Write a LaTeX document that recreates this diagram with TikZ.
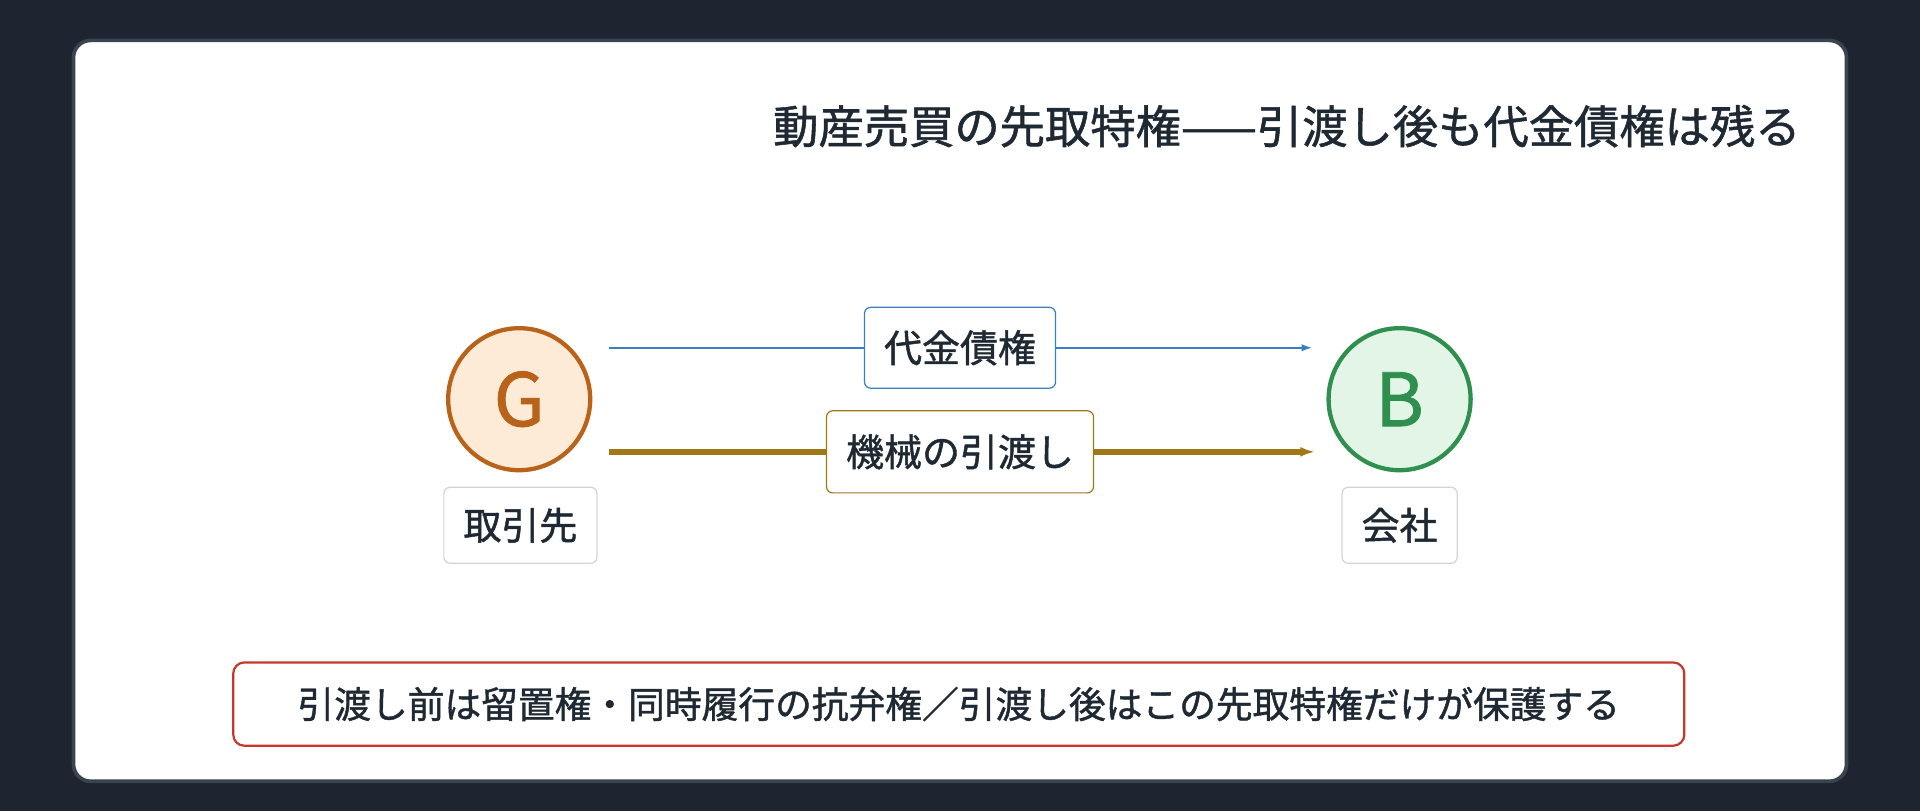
\documentclass[tikz,border=0pt]{standalone}
\usepackage{fontspec}
\setmainfont{Noto Sans CJK JP}
\newfontfamily\medfont[FakeBold=1.2]{Noto Sans CJK JP}
\usetikzlibrary{positioning,arrows.meta}
\definecolor{bgdark}{HTML}{1E2530}
\definecolor{cardedge}{HTML}{3A4350}
\definecolor{gedge}{HTML}{B8621A}
\definecolor{gfill}{HTML}{FDEBD8}
\definecolor{bedge}{HTML}{2F8F4E}
\definecolor{bfill}{HTML}{E3F5E6}
\definecolor{blueline}{HTML}{3A7FC1}
\definecolor{goldline}{HTML}{A07818}
\definecolor{redline}{HTML}{C8382A}
\definecolor{textdark}{HTML}{1F2933}
\definecolor{boxedge}{HTML}{D0D5DC}

\begin{document}
\begin{tikzpicture}[x=1pt,y=-1pt,
                party/.style={circle,line width=3.5pt,minimum size=116pt,inner sep=0pt,font=\fontsize{60}{60}\selectfont\medfont},
                tag/.style={rectangle,rounded corners=5pt,draw=boxedge,line width=1pt,fill=white,text=textdark,font=\fontsize{31}{31}\selectfont\medfont,minimum height=62pt,inner xsep=16pt},
                flow/.style={-{Latex[length=12pt,width=8pt]}}
            ]
                \fill[bgdark] (0,0) rectangle (1568,662);
                \draw[cardedge,line width=3pt,fill=white,rounded corners=14pt] (60,33) rectangle (1508,638);
                \node[anchor=east,text=textdark,font=\fontsize{37}{37}\selectfont\medfont] (title) at (1474,103) {動産売買の先取特権——引渡し後も代金債権は残る};

                % parties
                \node[party,draw=gedge,fill=gfill,text=gedge] (G) at (424,326) {G};
                \node[party,draw=bedge,fill=bfill,text=bedge] (B) at (1143,326) {B};
                \node[tag] (Gname) at (425,429) {取引先};
                \node[tag] (Bname) at (1143,429) {会社};

                \coordinate (bluestart) at (497,284);
                \coordinate (blueend) at (1072,284);
                \coordinate (goldstart) at (497,369);
                \coordinate (goldend) at (1074,369);
                \draw[flow,blueline,line width=2pt,-{Latex[length=9pt,width=6pt]}] (bluestart) -- (blueend);
                \draw[flow,goldline,line width=5pt] (goldstart) -- (goldend);
                \node[tag,draw=blueline,minimum height=66pt] (claim) at (784,284) {代金債権};
                \node[tag,draw=goldline,minimum height=67pt] (delivery) at (784,369) {機械の引渡し};

                \node[tag,draw=redline,line width=1.8pt,rounded corners=9pt,minimum height=68pt,minimum width=1185pt,font=\fontsize{30}{30}\selectfont\medfont] (note) at (783,575) {引渡し前は留置権・同時履行の抗弁権／引渡し後はこの先取特権だけが保護する};

            \end{tikzpicture}
\end{document}
